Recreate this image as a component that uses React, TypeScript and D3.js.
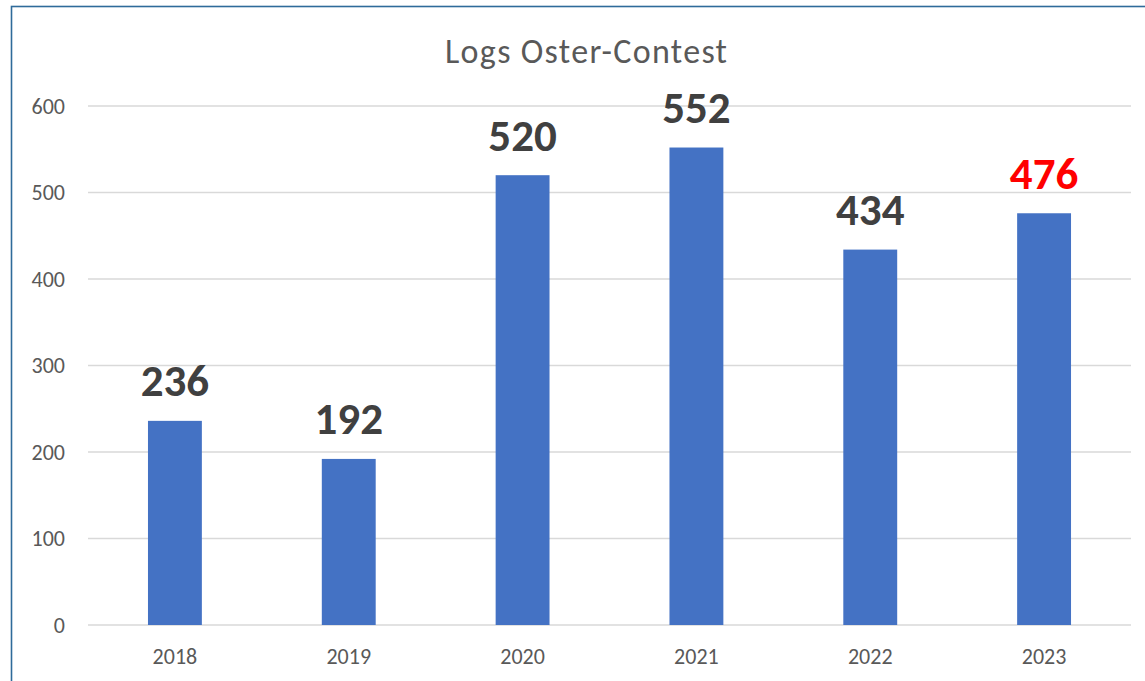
import React from "react";
import * as d3 from "d3";

const years = ["2018", "2019", "2020", "2021", "2022", "2023"];
const values = [236, 192, 520, 552, 434, 476];
const labelColors = ["#404040", "#404040", "#404040", "#404040", "#404040", "#FF0000"];
const yTicks = [0, 100, 200, 300, 400, 500, 600];
const title = "Logs Oster-Contest";

const W = 1145;
const H = 681;
const FONT = "Calibri, Carlito, Lato, sans-serif";

export default function App() {
  const x = d3.scaleBand<string>().domain(years).range([88, 1131]).paddingInner(0.69).paddingOuter(0.345);
  const y = d3.scaleLinear().domain([0, 600]).range([625, 106]);

  return (
    <svg width={W} height={H} style={{ position: "absolute", left: 0, top: 0, background: "#fff" }} fontFamily={FONT}>
      <rect x={0} y={0} width={W} height={H} fill="#fff" />
      <rect x={11.5} y={6.5} width={1160} height={700} fill="none" stroke="#2F6B9A" strokeWidth={1.6} />
      <text x={586} y={63} textAnchor="middle" fontSize={34} fill="#595959" textLength={282} lengthAdjust="spacing">{title}</text>
      {yTicks.map((t) => (
        <g key={t}>
          <line x1={88} x2={1131} y1={y(t)} y2={y(t)} stroke="#D9D9D9" strokeWidth={1.4} />
          <text x={65} y={y(t) + 7.5} textAnchor="end" fontSize={22} fill="#595959">{t}</text>
        </g>
      ))}
      {years.map((yr, i) => (
        <g key={yr}>
          <rect x={x(yr)} y={y(values[i])} width={x.bandwidth()} height={y(0) - y(values[i])} fill="#4472C4" />
          <text x={(x(yr) as number) + x.bandwidth() / 2} y={y(values[i]) - 24.5} textAnchor="middle" fontSize={45} fontWeight="bold" fill={labelColors[i]}>{values[i]}</text>
          <text x={(x(yr) as number) + x.bandwidth() / 2} y={663.5} textAnchor="middle" fontSize={22} fill="#595959">{yr}</text>
        </g>
      ))}
    </svg>
  );
}
